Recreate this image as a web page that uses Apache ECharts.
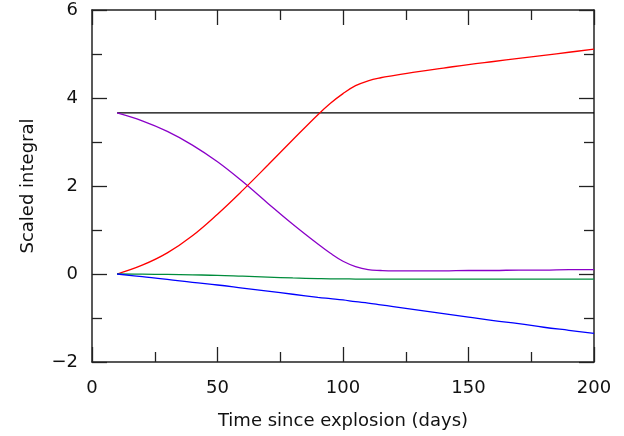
<!DOCTYPE html>
<html>
<head>
<meta charset="utf-8">
<script src="https://cdn.jsdelivr.net/npm/echarts@6/dist/echarts.min.js"></script>
<style>
  html, body { margin: 0; padding: 0; background: #fff; }
  #chart { width: 624px; height: 436px; }
</style>
</head>
<body>
<div id="chart"></div>
<script>
  // days since explosion, shared by all curves
  var days = [10, 20, 30, 40, 50, 60, 70, 80, 90, 95, 100, 105, 110, 115, 120, 130, 140, 150, 160, 170, 180, 190, 200]

  var redVals    = [0.00, 0.20, 0.48, 0.87, 1.36, 1.90, 2.47, 3.05, 3.62, 3.88, 4.10, 4.28, 4.39, 4.46, 4.51, 4.60, 4.68, 4.76, 4.83, 4.90, 4.97, 5.04, 5.11]
  var purpleVals = [3.66, 3.48, 3.24, 2.93, 2.55, 2.10, 1.61, 1.13, 0.68, 0.47, 0.29, 0.17, 0.10, 0.08, 0.07, 0.07, 0.07, 0.08, 0.08, 0.09, 0.09, 0.10, 0.10]
  var greenVals  = [0.00, -0.005, -0.01, -0.02, -0.03, -0.05, -0.07, -0.09, -0.105, -0.11, -0.11, -0.115, -0.115, -0.115, -0.115, -0.115, -0.115, -0.115, -0.115, -0.115, -0.115, -0.115, -0.115]
  var blueVals   = [0.00, -0.06, -0.12, -0.19, -0.25, -0.32, -0.39, -0.46, -0.53, -0.56, -0.59, -0.63, -0.66, -0.70, -0.74, -0.82, -0.90, -0.98, -1.06, -1.13, -1.21, -1.28, -1.35]
  var blackVals  = [3.66, 3.66, 3.66, 3.66, 3.66, 3.66, 3.66, 3.66, 3.66, 3.66, 3.66, 3.66, 3.66, 3.66, 3.66, 3.66, 3.66, 3.66, 3.66, 3.66, 3.66, 3.66, 3.66]

  var xTicks = [0, 50, 100, 150, 200]
  var yTicks = [-2, 0, 2, 4, 6]

  var font = 'DejaVu Sans'

  function pairs(vals) {
    return days.map(function (d, i) { return [d, vals[i]] })
  }

  function line(vals, color) {
    return {
      type: 'line',
      data: pairs(vals),
      smooth: 0.4,
      symbol: 'none',
      animation: false,
      lineStyle: { color: color, width: 1.3 }
    }
  }

  function axisBase(ticks, showLabels) {
    return {
      type: 'value',
      min: ticks[0],
      max: ticks[ticks.length - 1],
      interval: ticks[1] - ticks[0],
      axisLine: { show: true, onZero: false, lineStyle: { color: '#222', width: 1.5 } },
      axisTick: { show: true, inside: true, length: 15, lineStyle: { color: '#222', width: 1.3 } },
      minorTick: { show: true, splitNumber: 2, length: 10, lineStyle: { color: '#222', width: 1.3 } },
      splitLine: { show: false },
      axisLabel: {
        show: showLabels, color: '#111', fontFamily: font, fontSize: 18, margin: 14,
        formatter: function (v) { return String(v).replace('-', '\u2212') }
      }
    }
  }

  var chart = echarts.init(document.getElementById('chart'))

  var xBottom = axisBase(xTicks, true)
  xBottom.position = 'bottom'
  xBottom.name = 'Time since explosion (days)'
  xBottom.nameLocation = 'middle'
  xBottom.nameGap = 50
  xBottom.nameTextStyle = { color: '#111', fontFamily: font, fontSize: 18 }
  xBottom.axisLabel.margin = 17

  var xTop = axisBase(xTicks, false)
  xTop.position = 'top'

  var yLeft = axisBase(yTicks, true)
  yLeft.position = 'left'
  yLeft.name = 'Scaled integral'
  yLeft.nameLocation = 'middle'
  yLeft.nameGap = 55
  yLeft.nameTextStyle = { color: '#111', fontFamily: font, fontSize: 18 }

  var yRight = axisBase(yTicks, false)
  yRight.position = 'right'

  chart.setOption({
    backgroundColor: '#fff',
    grid: { left: 92, right: 30, top: 10, bottom: 74 },
    xAxis: [xBottom, xTop],
    yAxis: [yLeft, yRight],
    series: [
      line(blackVals, '#000000'),
      line(purpleVals, '#8a00c8'),
      line(redVals, '#ff0000'),
      line(greenVals, '#008c3c'),
      line(blueVals, '#0000ff')
    ]
  })
</script>
</body>
</html>
